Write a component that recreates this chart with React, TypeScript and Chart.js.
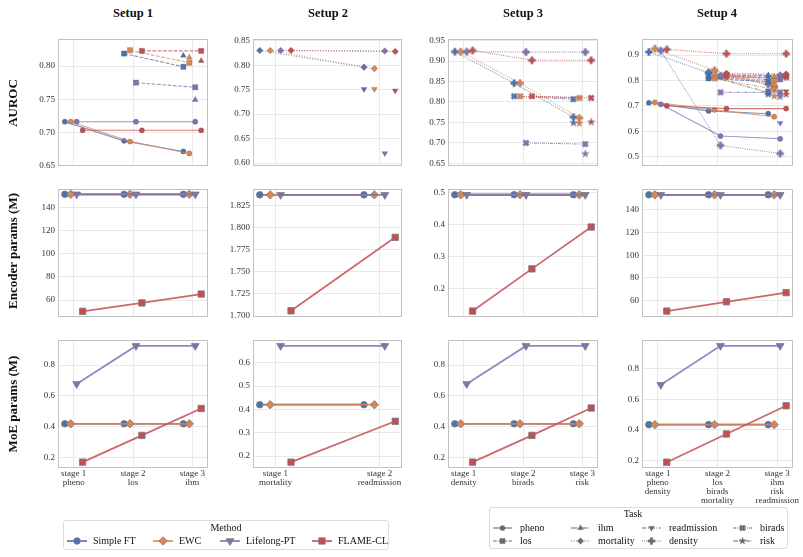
import React, { useEffect, useRef } from 'react';
import { Chart, registerables } from 'chart.js';

Chart.register(...registerables);

const SERIF = "'Liberation Serif', 'Times New Roman', Times, serif";

// ---------------- methods ----------------
const methods = ['Simple FT', 'EWC', 'Lifelong-PT', 'FLAME-CL'];
const methodColors = ['#4C72B0', '#DD8452', '#8172B3', '#C44E52'];
const methodMarkers = ['o', 'D', 'v', 's'];
const methodOffsets = [-0.15, -0.05, 0.05, 0.15];

// ---------------- tasks ----------------
const tasks = ['pheno', 'los', 'ihm', 'mortality', 'readmission', 'density', 'birads', 'risk'];
const taskMarkers = ['o', 's', '^', 'D', 'v', 'P', 'X', '*'];
const taskDashes = [[], [3.7, 1.6], [6.4, 1.6, 1, 1.6], [1, 1.65], [4.5, 1.5, 1, 1.5], [1, 1.2], [3, 1, 1, 1, 1, 1], [5, 1.2]];

// ---------------- labels ----------------
const setupTitles = ['Setup 1', 'Setup 2', 'Setup 3', 'Setup 4'];
const rowTitles = ['AUROC', 'Encoder params (M)', 'MoE params (M)'];
const stageLabels1 = [['stage 1', 'pheno'], ['stage 2', 'los'], ['stage 3', 'ihm']];
const stageLabels2 = [['stage 1', 'mortality'], ['stage 2', 'readmission']];
const stageLabels3 = [['stage 1', 'density'], ['stage 2', 'birads'], ['stage 3', 'risk']];
const stageLabels4 = [
  ['stage 1', 'pheno', 'density'],
  ['stage 2', 'los', 'birads', 'mortality'],
  ['stage 3', 'ihm', 'risk', 'readmission'],
];

// ---------------- AUROC (rows: Simple FT, EWC, Lifelong-PT, FLAME-CL; cols: stages) ----------------
const auroc1Pheno = [[0.716, 0.687, 0.671], [0.716, 0.686, 0.668], [0.716, 0.716, 0.716], [0.703, 0.703, 0.703]];
const auroc1Los = [[null, 0.819, 0.799], [null, 0.824, 0.805], [null, 0.775, 0.768], [null, 0.823, 0.823]];
const auroc1Ihm = [[null, null, 0.816], [null, null, 0.813], [null, null, 0.749], [null, null, 0.808]];

const auroc2Mortality = [[0.830, 0.796], [0.830, 0.793], [0.830, 0.829], [0.830, 0.828]];
const auroc2Readmission = [[null, 0.751], [null, 0.751], [null, 0.620], [null, 0.748]];

const auroc3Density = [[0.923, 0.846, 0.763], [0.923, 0.846, 0.761], [0.923, 0.922, 0.922], [0.926, 0.902, 0.902]];
const auroc3Birads = [[null, 0.814, 0.807], [null, 0.814, 0.810], [null, 0.700, 0.697], [null, 0.814, 0.810]];
const auroc3Risk = [[null, null, 0.749], [null, null, 0.748], [null, null, 0.673], [null, null, 0.751]];

const auroc4Pheno = [[0.712, 0.680, 0.669], [0.714, 0.684, 0.657], [0.706, 0.581, 0.570], [0.700, 0.689, 0.689]];
const auroc4Density = [[0.912, 0.830, 0.785], [0.925, 0.840, 0.775], [0.917, 0.544, 0.512], [0.922, 0.905, 0.905]];
const auroc4Los = [[null, 0.808, 0.795], [null, 0.812, 0.800], [null, 0.815, 0.810], [null, 0.822, 0.818]];
const auroc4Birads = [[null, 0.818, 0.752], [null, 0.808, 0.765], [null, 0.753, 0.753], [null, 0.815, 0.812]];
const auroc4Mortality = [[null, 0.832, 0.803], [null, 0.835, 0.782], [null, 0.820, 0.822], [null, 0.828, 0.825]];
const auroc4Ihm = [[null, null, 0.820], [null, null, 0.815], [null, null, 0.800], [null, null, 0.822]];
const auroc4Risk = [[null, null, 0.745], [null, null, 0.738], [null, null, 0.736], [null, null, 0.745]];
const auroc4Readmission = [[null, null, 0.760], [null, null, 0.768], [null, null, 0.632], [null, null, 0.757]];

// ---------------- Encoder params (M) ----------------
const encoder1 = [[151.6, 151.6, 151.6], [151.6, 151.6, 151.6], [151.6, 151.6, 151.6], [50.2, 57.5, 65.2]];
const encoder2 = [[1.837, 1.837], [1.837, 1.837], [1.837, 1.837], [1.706, 1.789]];
const encoder3 = [[0.494, 0.494, 0.494], [0.494, 0.494, 0.494], [0.494, 0.494, 0.494], [0.130, 0.262, 0.393]];
const encoder4 = [[153.1, 153.1, 153.1], [153.1, 153.1, 153.1], [153.1, 153.1, 153.1], [50.8, 59.0, 67.0]];

// ---------------- MoE params (M) ----------------
const moe1 = [[0.42, 0.42, 0.42], [0.42, 0.42, 0.42], [0.678, 0.924, 0.924], [0.172, 0.345, 0.519]];
const moe2 = [[0.42, 0.42], [0.42, 0.42], [0.672, 0.672], [0.174, 0.349]];
const moe3 = [[0.42, 0.42, 0.42], [0.42, 0.42, 0.42], [0.678, 0.924, 0.924], [0.172, 0.345, 0.522]];
const moe4 = [[0.433, 0.433, 0.433], [0.433, 0.433, 0.433], [0.694, 0.950, 0.950], [0.187, 0.372, 0.557]];

// ---------------- y tick values ----------------
const yTicksAuroc1 = [0.65, 0.7, 0.75, 0.8];
const yTicksAuroc2 = [0.6, 0.65, 0.7, 0.75, 0.8, 0.85];
const yTicksAuroc3 = [0.65, 0.7, 0.75, 0.8, 0.85, 0.9, 0.95];
const yTicksAuroc4 = [0.5, 0.6, 0.7, 0.8, 0.9];
const yTicksEnc1 = [60, 80, 100, 120, 140];
const yTicksEnc2 = [1.7, 1.725, 1.75, 1.775, 1.8, 1.825];
const yTicksEnc3 = [0.2, 0.3, 0.4, 0.5];
const yTicksEnc4 = [60, 80, 100, 120, 140];
const yTicksMoe1 = [0.2, 0.4, 0.6, 0.8];
const yTicksMoe2 = [0.2, 0.3, 0.4, 0.5, 0.6];
const yTicksMoe3 = [0.2, 0.4, 0.6, 0.8];
const yTicksMoe4 = [0.2, 0.4, 0.6, 0.8];

// ---------------- assembled tables ----------------
const aurocBySetup: [string, (number | null)[][]][][] = [
  [['pheno', auroc1Pheno], ['los', auroc1Los], ['ihm', auroc1Ihm]],
  [['mortality', auroc2Mortality], ['readmission', auroc2Readmission]],
  [['density', auroc3Density], ['birads', auroc3Birads], ['risk', auroc3Risk]],
  [
    ['pheno', auroc4Pheno], ['density', auroc4Density], ['los', auroc4Los], ['birads', auroc4Birads],
    ['mortality', auroc4Mortality], ['ihm', auroc4Ihm], ['risk', auroc4Risk], ['readmission', auroc4Readmission],
  ],
];
const paramsByRow = [null, [encoder1, encoder2, encoder3, encoder4], [moe1, moe2, moe3, moe4]];
const stageLabelsBySetup = [stageLabels1, stageLabels2, stageLabels3, stageLabels4];
const yTicksGrid = [
  [yTicksAuroc1, yTicksAuroc2, yTicksAuroc3, yTicksAuroc4],
  [yTicksEnc1, yTicksEnc2, yTicksEnc3, yTicksEnc4],
  [yTicksMoe1, yTicksMoe2, yTicksMoe3, yTicksMoe4],
];

// ---------------- layout (not data) ----------------
const yRange = [
  [[0.649, 0.841, 2], [0.594, 0.8535, 2], [0.6435, 0.954, 2], [0.463, 0.963, 1]],
  [[45.3, 156.2, 0], [1.699, 1.8436, 3], [0.1114, 0.512, 1], [45.6, 158.2, 0]],
  [[0.134, 0.962, 1], [0.149, 0.697, 1], [0.134, 0.962, 1], [0.149, 0.988, 1]],
];
const colLeft = [58, 253, 448, 642];
const colWidth = [150, 149, 150, 151];
const rowTop = [39, 189, 340];
const rowHeight = [127, 128, 128];
const PAD_L = 56, PAD_R = 36, PAD_T = 12;
const PAD_B = [12, 12, 52];

const GRID = '#e3e3e3';
const FRAME = '#c2c2c2';
const TICK = '#333333';

const markerSizes: Record<string, Record<string, number>> = {
  auroc: { o: 2.6, s: 3.7, '^': 3.3, v: 3.3, D: 3.3, P: 3.4, X: 3.3, '*': 3.9 },
  params: { o: 3.3, s: 4.5, '^': 4.5, v: 4.5, D: 4.2, P: 4, X: 4, '*': 4.5 },
};

function rgba(hex: string, a: number) {
  const n = parseInt(hex.slice(1), 16);
  return `rgba(${(n >> 16) & 255},${(n >> 8) & 255},${n & 255},${a})`;
}

function markerD(shape: string, cx: number, cy: number, r: number): string {
  const poly = (pts: number[][]) =>
    'M' + pts.map((p) => `${(cx + p[0]).toFixed(2)} ${(cy + p[1]).toFixed(2)}`).join(' L') + ' Z';
  const rot = (pts: number[][], a: number) =>
    pts.map(([x, y]) => [x * Math.cos(a) - y * Math.sin(a), x * Math.sin(a) + y * Math.cos(a)]);
  switch (shape) {
    case 'o':
      return `M ${cx - r} ${cy} A ${r} ${r} 0 1 0 ${cx + r} ${cy} A ${r} ${r} 0 1 0 ${cx - r} ${cy} Z`;
    case 's': {
      const h = r * 0.7071;
      return poly([[-h, -h], [h, -h], [h, h], [-h, h]]);
    }
    case '^':
      return poly([[0, -r], [r * 0.866, r * 0.5], [-r * 0.866, r * 0.5]]);
    case 'v':
      return poly([[0, r], [r * 0.866, -r * 0.5], [-r * 0.866, -r * 0.5]]);
    case 'D':
      return poly([[0, -r], [r, 0], [0, r], [-r, 0]]);
    case 'P':
    case 'X': {
      const a = r * 0.36;
      let pts = [[-a, -r], [a, -r], [a, -a], [r, -a], [r, a], [a, a], [a, r], [-a, r], [-a, a], [-r, a], [-r, -a], [-a, -a]];
      if (shape === 'X') pts = rot(pts, Math.PI / 4);
      return poly(pts);
    }
    case '*': {
      const pts: number[][] = [];
      for (let i = 0; i < 10; i++) {
        const rr = i % 2 === 0 ? r : r * 0.4;
        const ang = -Math.PI / 2 + (i * Math.PI) / 5;
        pts.push([rr * Math.cos(ang), rr * Math.sin(ang)]);
      }
      return poly(pts);
    }
  }
  return '';
}

const imgCache: Record<string, HTMLCanvasElement> = {};
function markerImage(shape: string, color: string, r: number, edge: string, edgeW: number) {
  const key = `${shape}|${color}|${r}|${edge}|${edgeW}`;
  if (!imgCache[key]) {
    const s = Math.ceil(2 * r + 3);
    const c = document.createElement('canvas');
    c.width = s;
    c.height = s;
    const ctx = c.getContext('2d')!;
    const p = new Path2D(markerD(shape, s / 2, s / 2, r));
    ctx.fillStyle = color;
    ctx.fill(p);
    ctx.strokeStyle = edge;
    ctx.lineWidth = edgeW;
    ctx.stroke(p);
    imgCache[key] = c;
  }
  return imgCache[key];
}

function pointOpts(shape: string, color: string, kind: string, edge: string, edgeW: number) {
  const r = markerSizes[kind][shape];
  switch (shape) {
    case 'o':
      return { pointStyle: 'circle', pointRadius: r, pointRotation: 0 };
    case 's':
      return { pointStyle: 'rect', pointRadius: r, pointRotation: 0 };
    case '^':
      return { pointStyle: 'triangle', pointRadius: r, pointRotation: 0 };
    case 'v':
      return { pointStyle: 'triangle', pointRadius: r, pointRotation: 180 };
    case 'D':
      return { pointStyle: 'rectRot', pointRadius: r, pointRotation: 0 };
    default:
      return { pointStyle: markerImage(shape, color, r, edge, edgeW), pointRadius: r, pointRotation: 0 };
  }
}

function toPoints(row: (number | null)[], m: number) {
  const pts: { x: number; y: number }[] = [];
  row.forEach((v, i) => {
    if (v != null) pts.push({ x: i + methodOffsets[m], y: v });
  });
  return pts;
}

function aurocDatasets(setup: number) {
  const out: any[] = [];
  let k = 0;
  const edge = 'rgba(80,80,80,0.55)';
  for (const [task, values] of aurocBySetup[setup]) {
    const t = tasks.indexOf(task);
    values.forEach((row, m) => {
      out.push({
        data: toPoints(row, m),
        borderColor: rgba(methodColors[m], 0.75),
        borderWidth: 1.1,
        borderDash: taskDashes[t],
        backgroundColor: methodColors[m],
        pointBackgroundColor: methodColors[m],
        pointBorderColor: edge,
        pointBorderWidth: 0.5,
        ...pointOpts(taskMarkers[t], methodColors[m], 'auroc', edge, 0.5),
        showLine: true,
        tension: 0,
        fill: false,
        clip: false,
        order: -k++,
      });
    });
  }
  return out;
}

function paramDatasets(row: number, setup: number) {
  const table = (paramsByRow[row] as number[][][])[setup];
  const edge = '#7a7a7a';
  return table.map((vals, m) => ({
    data: toPoints(vals, m),
    borderColor: rgba(methodColors[m], 0.85),
    borderWidth: 1.8,
    backgroundColor: methodColors[m],
    pointBackgroundColor: methodColors[m],
    pointBorderColor: edge,
    pointBorderWidth: 0.8,
    ...pointOpts(methodMarkers[m], methodColors[m], 'params', edge, 0.8),
    showLine: true,
    tension: 0,
    fill: false,
    clip: false,
    order: -m,
  }));
}

const framePlugin = {
  id: 'frame',
  beforeDatasetsDraw(chart: any) {
    const { ctx, chartArea: a } = chart;
    ctx.save();
    ctx.strokeStyle = FRAME;
    ctx.lineWidth = 1;
    ctx.strokeRect(Math.round(a.left) + 0.5, Math.round(a.top) + 0.5, Math.round(a.right - a.left) - 1, Math.round(a.bottom - a.top) - 1);
    ctx.restore();
  },
};

function Subplot({ row, col }: { row: number; col: number }) {
  const ref = useRef<HTMLCanvasElement>(null);
  const w = colWidth[col];
  const h = rowHeight[row];
  const B = PAD_B[row];
  const W = PAD_L + w + PAD_R;
  const H = PAD_T + h + B;
  useEffect(() => {
    const labels = stageLabelsBySetup[col];
    const n = labels.length;
    const xMin = n === 3 ? -0.265 : -0.215;
    const xMax = n === 3 ? 2.265 : 1.215;
    const [yMin, yMax, dec] = yRange[row][col];
    const yTicks = yTicksGrid[row][col];
    const datasets = row === 0 ? aurocDatasets(col) : paramDatasets(row, col);
    const tickFont = { family: SERIF, size: 9, lineHeight: 1.0 };
    const chart = new Chart(ref.current!, {
      type: 'line',
      data: { datasets },
      options: {
        animation: false,
        responsive: false,
        events: [],
        layout: { padding: { top: PAD_T, right: PAD_R, left: 0, bottom: 0 } },
        plugins: { legend: { display: false }, tooltip: { enabled: false }, title: { display: false } },
        scales: {
          x: {
            type: 'linear',
            min: xMin,
            max: xMax,
            afterBuildTicks: (s: any) => {
              s.ticks = labels.map((_, i) => ({ value: i }));
            },
            afterFit: (s: any) => {
              s.height = B;
            },
            grid: { color: GRID, lineWidth: 0.8, drawTicks: false },
            border: { display: false },
            ticks: {
              display: row === 2,
              padding: 1,
              color: TICK,
              font: tickFont,
              maxRotation: 0,
              minRotation: 0,
              autoSkip: false,
              callback: (v: any) => labels[Math.round(Number(v))],
            },
          },
          y: {
            type: 'linear',
            min: yMin,
            max: yMax,
            afterBuildTicks: (s: any) => {
              s.ticks = yTicks.map((v) => ({ value: v }));
            },
            afterFit: (s: any) => {
              s.width = PAD_L;
            },
            grid: { color: GRID, lineWidth: 0.8, drawTicks: false },
            border: { display: false },
            ticks: {
              padding: 3,
              color: TICK,
              font: tickFont,
              autoSkip: false,
              callback: (v: any) => Number(v).toFixed(dec),
            },
          },
        },
      } as any,
      plugins: [framePlugin],
    });
    return () => chart.destroy();
  }, []);
  return (
    <canvas
      ref={ref}
      width={W}
      height={H}
      style={{ position: 'absolute', left: colLeft[col] - PAD_L, top: rowTop[row] - PAD_T, width: W, height: H }}
    />
  );
}

function Glyph({ x, y, w, color, lineColor, dash, shape, kind, edge, edgeW, lw }: any) {
  const r = markerSizes[kind][shape];
  return (
    <svg width={w} height={14} style={{ position: 'absolute', left: x, top: y - 7, overflow: 'visible' }}>
      <line x1={0} y1={7} x2={w} y2={7} stroke={lineColor} strokeWidth={lw} strokeDasharray={dash.length ? dash.join(' ') : undefined} />
      <path d={markerD(shape, w / 2, 7, r)} fill={color} stroke={edge} strokeWidth={edgeW} />
    </svg>
  );
}

function Text({ x, y, children, size = 10, bold = false, center = false }: any) {
  return (
    <div
      style={{
        position: 'absolute',
        left: x,
        top: y,
        transform: center ? 'translate(-50%, -50%)' : 'translate(0, -50%)',
        fontFamily: SERIF,
        fontSize: size,
        fontWeight: bold ? 'bold' : 'normal',
        color: '#111',
        whiteSpace: 'nowrap',
        lineHeight: 1,
      }}
    >
      {children}
    </div>
  );
}

const methodLegendTextX = [93, 179, 246, 338];
const taskLegendTextX = [520, 598, 669, 760];
const taskLegendRowY = [528, 541];

export default function App() {
  const rowLabelY = [103, 251, 404];
  const titleX = [133, 328, 523, 717];
  const cells: any[] = [];
  for (let r = 0; r < 3; r++) for (let c = 0; c < 4; c++) cells.push(<Subplot key={`${r}-${c}`} row={r} col={c} />);
  return (
    <div style={{ position: 'absolute', left: 0, top: 0, width: 803, height: 557, overflow: 'hidden', background: '#fff' }}>
      {cells}
      {setupTitles.map((t, i) => (
        <Text key={t} x={titleX[i]} y={12.5} size={12.5} bold center>
          {t}
        </Text>
      ))}
      {rowTitles.map((t, i) => (
        <div
          key={t}
          style={{
            position: 'absolute',
            left: 12,
            top: rowLabelY[i],
            transform: 'translate(-50%, -50%) rotate(-90deg)',
            fontFamily: SERIF,
            fontSize: 13,
            fontWeight: 'bold',
            whiteSpace: 'nowrap',
            lineHeight: 1,
            color: '#111',
          }}
        >
          {t}
        </div>
      ))}
      {/* Method legend */}
      <div style={{ position: 'absolute', left: 63, top: 520, width: 326, height: 30, border: '1px solid #dcdcdc', borderRadius: 3, boxSizing: 'border-box' }} />
      <Text x={226} y={528} center>
        Method
      </Text>
      {methods.map((m, i) => (
        <React.Fragment key={m}>
          <Glyph
            x={methodLegendTextX[i] - 26}
            y={541}
            w={20}
            color={methodColors[i]}
            lineColor={methodColors[i]}
            dash={[]}
            shape={methodMarkers[i]}
            kind="params"
            edge="#7a7a7a"
            edgeW={0.8}
            lw={1.6}
          />
          <Text x={methodLegendTextX[i]} y={541}>
            {m}
          </Text>
        </React.Fragment>
      ))}
      {/* Task legend */}
      <div style={{ position: 'absolute', left: 489, top: 507, width: 299, height: 42, border: '1px solid #dcdcdc', borderRadius: 3, boxSizing: 'border-box' }} />
      <Text x={633} y={514} center>
        Task
      </Text>
      {tasks.map((t, i) => {
        const col = Math.floor(i / 2);
        const rr = i % 2;
        return (
          <React.Fragment key={t}>
            <Glyph
              x={taskLegendTextX[col] - 27}
              y={taskLegendRowY[rr]}
              w={19}
              color="#6b6b6b"
              lineColor="#6b6b6b"
              dash={taskDashes[i]}
              shape={taskMarkers[i]}
              kind="auroc"
              edge="#6b6b6b"
              edgeW={0.3}
              lw={1.1}
            />
            <Text x={taskLegendTextX[col]} y={taskLegendRowY[rr]}>
              {t}
            </Text>
          </React.Fragment>
        );
      })}
    </div>
  );
}
